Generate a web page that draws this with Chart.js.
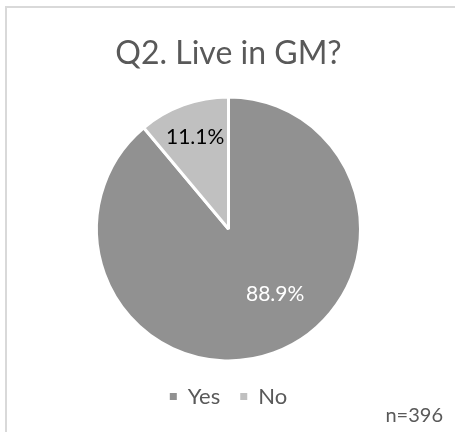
<!DOCTYPE html>
<html>
<head>
<meta charset="utf-8">
<title>Q2. Live in GM?</title>
<script src="https://cdn.jsdelivr.net/npm/chart.js@4/dist/chart.umd.min.js"></script>
<style>
  html, body { margin: 0; padding: 0; background: #fff; }
  canvas { display: block; }
</style>
</head>
<body>
<canvas id="myChart" width="455" height="432"></canvas>
<script>
const answers = ['Yes', 'No'];
const shares = [88.9, 11.1];          // % of respondents
const sampleSize = 396;
const sliceColors = ['#919191', '#c0c0c0'];
const labelColors = ['#ffffff', '#000000'];

// light grey frame round the chart (top and left edges are inside the canvas)
const frame = {
    id: 'frame',
    beforeDraw(chart) {
        const c = chart.ctx;
        c.save();
        c.strokeStyle = '#d9d9d9';
        c.lineWidth = 2;
        c.beginPath();
        c.moveTo(6, chart.height);
        c.lineTo(6, 7);
        c.lineTo(chart.width, 7);
        c.stroke();
        c.restore();
    }
};

// percentage written inside each slice
const sliceLabels = {
    id: 'sliceLabels',
    afterDatasetsDraw(chart, args, opts) {
        const c = chart.ctx;
        const meta = chart.getDatasetMeta(0);
        c.save();
        c.font = opts.font;
        c.textAlign = 'center';
        c.textBaseline = 'middle';
        meta.data.forEach((arc, i) => {
            const p = arc.getProps(['x', 'y', 'startAngle', 'endAngle', 'outerRadius'], true);
            const a = (p.startAngle + p.endAngle) / 2 + opts.shift[i] * Math.PI / 180;
            const r = p.outerRadius * opts.distance[i];
            c.fillStyle = labelColors[i];
            c.fillText(shares[i].toFixed(1) + '%', p.x + Math.cos(a) * r, p.y + Math.sin(a) * r);
        });
        c.restore();
    }
};

// sample size in the bottom right corner
const sampleNote = {
    id: 'sampleNote',
    afterDraw(chart) {
        const c = chart.ctx;
        c.save();
        c.font = '20px Lato';
        c.fillStyle = '#595959';
        c.textAlign = 'right';
        c.textBaseline = 'alphabetic';
        c.fillText('n=' + sampleSize, 443, 422);
        c.restore();
    }
};

const ctx = document.getElementById('myChart').getContext('2d');

new Chart(ctx, {
    type: 'pie',
    data: {
        labels: answers,
        datasets: [{
            data: shares,
            backgroundColor: sliceColors,
            borderColor: '#ffffff',
            borderWidth: 3
        }]
    },
    plugins: [frame, sliceLabels, sampleNote],
    options: {
        responsive: false,
        animation: false,
        layout: {
            padding: { left: 95, right: 93, top: 0, bottom: 14.5 }
        },
        plugins: {
            title: {
                display: true,
                text: 'Q2. Live in GM?',
                color: '#595959',
                font: { family: 'Lato', size: 32, weight: 'normal' },
                padding: { top: 34, bottom: 20 }
            },
            legend: {
                position: 'bottom',
                labels: {
                    color: '#595959',
                    font: { family: 'Lato', size: 22 },
                    boxWidth: 7,
                    boxHeight: 7,
                    padding: 20,
                    // plain squares, without the white slice border
                    generateLabels(chart) {
                        const items = Chart.overrides.pie.plugins.legend.labels.generateLabels(chart);
                        items.forEach(item => { item.lineWidth = 0; });
                        return items;
                    }
                }
            },
            tooltip: { enabled: false },
            sliceLabels: {
                font: '21px Lato',
                distance: [0.61, 0.74],
                shift: [-15.4, 0]
            }
        }
    }
});
</script>
</body>
</html>
